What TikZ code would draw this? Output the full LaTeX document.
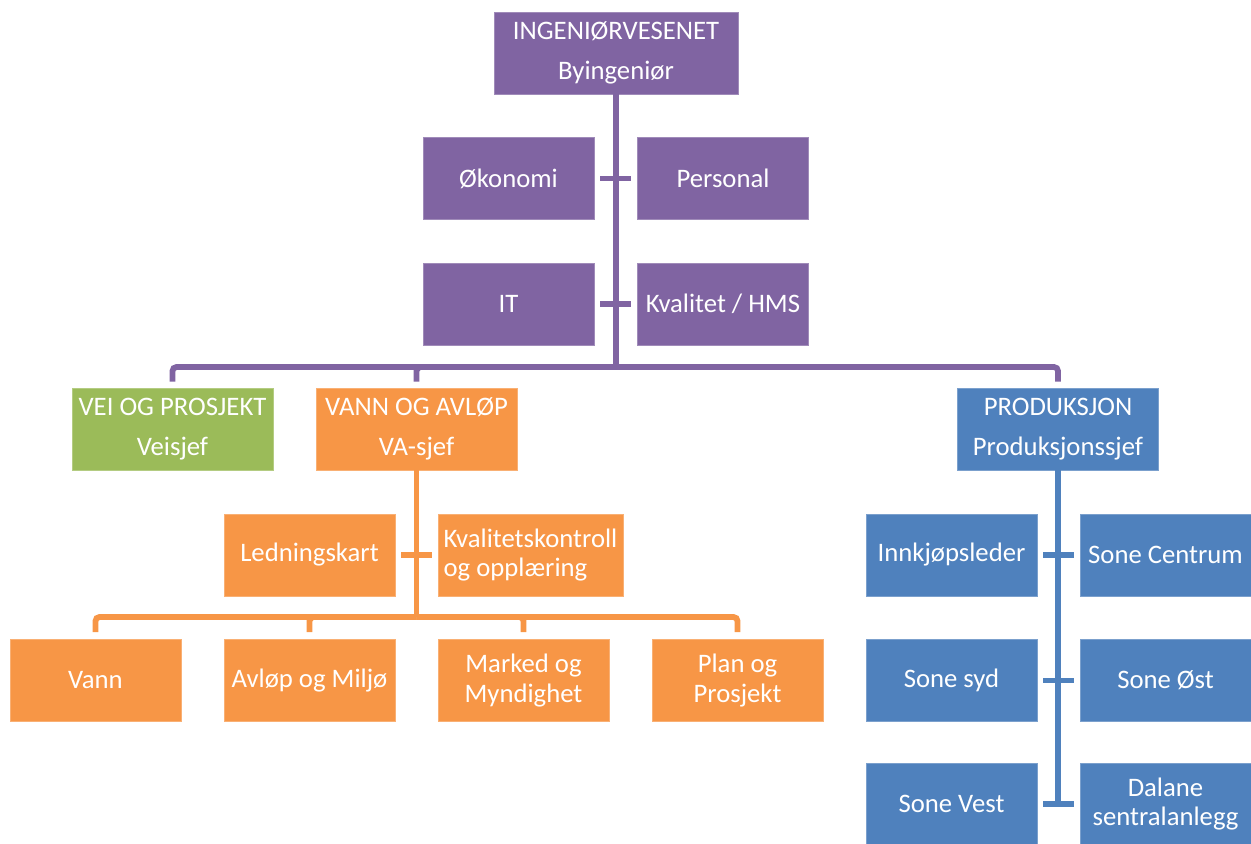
\documentclass[tikz,border=0pt]{standalone}
\usepackage{fontspec}
\setmainfont{Carlito}
\usetikzlibrary{arrows.meta}

\definecolor{orgpurple}{HTML}{8064A2}
\definecolor{orggreen}{HTML}{9BBB59}
\definecolor{orgorange}{HTML}{F79646}
\definecolor{orgblue}{HTML}{4F81BD}

\begin{document}
\begin{tikzpicture}[
x=0.02cm, y=-0.02cm,
box/.style={rectangle, fill=#1, draw=#1!75!white, line width=0.4pt, align=center, text=white, font=\fontsize{15.2}{17}\selectfont, minimum width=3.42cm, minimum height=1.64cm, inner sep=2pt},
head/.style={box=#1, minimum width=4.02cm},
link/.style={line width=3.3pt, draw=#1, rounded corners=0.08cm},
tick/.style={link=#1, shorten <=0.12cm, shorten >=0.12cm}
]
\useasboundingbox (0,0) rectangle (1251,843);

% leiing
\node[box=orgpurple, minimum width=4.88cm] (org_top) at (616,53) {INGENIØRVESENET\\[5.5pt] Byingeniør};
\node[box=orgpurple] (org_okonomi) at (508.5,178.5) {Økonomi};
\node[box=orgpurple] (org_personal) at (723,178.5) {Personal};
\node[box=orgpurple] (org_it) at (508.5,304) {IT};
\node[box=orgpurple] (org_kvalitet) at (723,304) {Kvalitet / HMS};

% avdelingar
\node[head=orggreen] (org_vei) at (172.5,429) {VEI OG PROSJEKT\\[5.5pt] Veisjef};
\node[head=orgorange] (org_va) at (416.5,429) {VANN OG AVLØP\\[5.5pt] VA-sjef};
\node[head=orgblue] (org_prod) at (1058,429) {PRODUKSJON\\[5.5pt] Produksjonssjef};

% vann og avløp
\node[box=orgorange] (org_ledning) at (309.5,555) {Ledningskart};
\node[box=orgorange, minimum width=3.7cm, align=left] (org_kontroll) at (530.5,555) {Kvalitetskontroll\\og opplæring};
\node[box=orgorange] (org_vann) at (95.5,680.5) {Vann};
\node[box=orgorange] (org_avlop) at (309.5,680.5) {Avløp og Miljø};
\node[box=orgorange] (org_marked) at (523.5,680.5) {Marked og\\Myndighet};
\node[box=orgorange] (org_plan) at (737.5,680.5) {Plan og\\Prosjekt};

% produksjon
\node[box=orgblue] (org_innkjop) at (951.5,555) {Innkjøpsleder};
\node[box=orgblue] (org_centrum) at (1165.5,555) {Sone Centrum};
\node[box=orgblue] (org_syd) at (951.5,680.5) {Sone syd};
\node[box=orgblue] (org_ost) at (1165.5,680.5) {Sone Øst};
\node[box=orgblue] (org_vest) at (951.5,804) {Sone Vest};
\node[box=orgblue] (org_dalane) at (1165.5,804) {Dalane\\sentralanlegg};

\coordinate (bus_top) at (616,367);
\coordinate (bus_va) at (416.5,617);

% linjer
\draw[link=orgpurple] (org_top) -- (bus_top);
\draw[link=orgpurple, shorten >=0.12cm] (bus_top) -| (org_vei);
\draw[link=orgpurple, shorten >=0.12cm] (bus_top) -| (org_va);
\draw[link=orgpurple, shorten >=0.12cm] (bus_top) -| (org_prod);
\draw[tick=orgpurple] (org_okonomi) -- (org_personal);
\draw[tick=orgpurple] (org_it) -- (org_kvalitet);

\draw[link=orgorange] (org_va) -- (bus_va);
\draw[tick=orgorange] (org_ledning) -- (org_kontroll);
\foreach \n in {org_vann, org_avlop, org_marked, org_plan}
  \draw[link=orgorange, shorten >=0.14cm] (bus_va) -| (\n);

\draw[link=orgblue] (org_prod) -- (org_prod |- org_vest);
\draw[tick=orgblue] (org_innkjop) -- (org_centrum);
\draw[tick=orgblue] (org_syd) -- (org_ost);
\draw[tick=orgblue] (org_vest) -- (org_dalane);

\end{tikzpicture}
\end{document}
